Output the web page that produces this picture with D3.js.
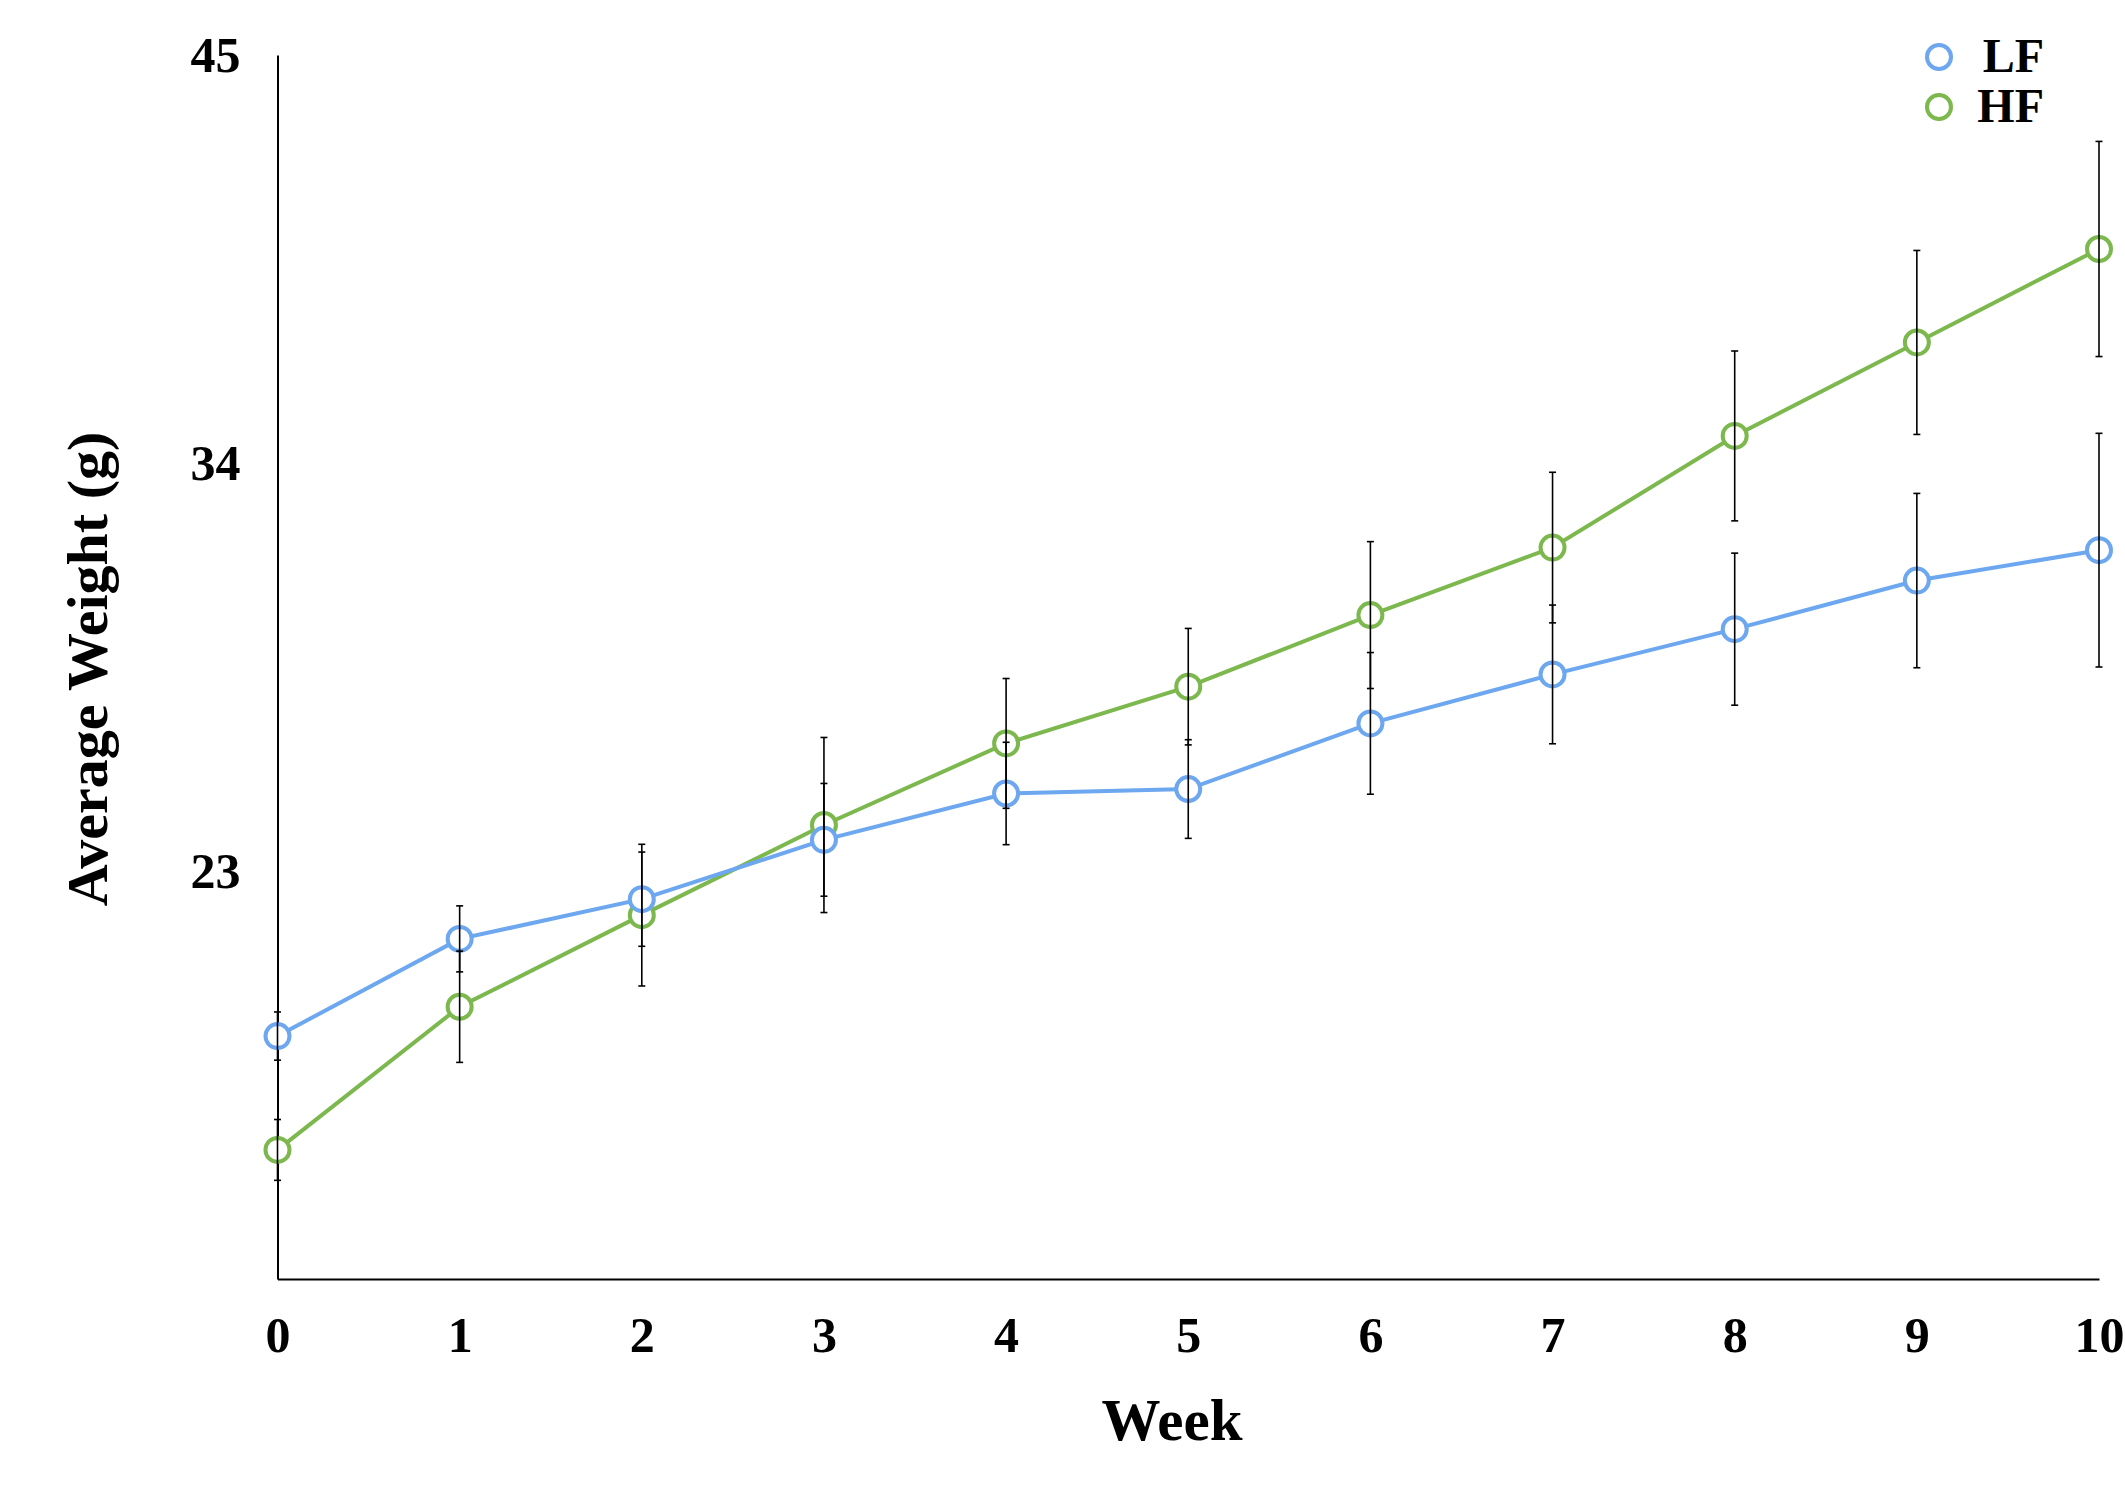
<!DOCTYPE html>
<html>
<head>
<meta charset="utf-8">
<script src="https://cdn.jsdelivr.net/npm/d3@7"></script>
<style>
  html, body { margin: 0; padding: 0; background: #fff; }
  svg { display: block; }
  text { font-family: "Liberation Serif", "Times New Roman", serif; font-weight: bold; fill: #000; }
</style>
</head>
<body>
<svg id="chart" width="2125" height="1496"></svg>
<script>
const weeks = [0, 1, 2, 3, 4, 5, 6, 7, 8, 9, 10];
const lfMean = [18.55, 21.17, 22.24, 23.84, 25.09, 25.21, 26.98, 28.30, 29.52, 30.83, 31.65];
const lfErr  = [0.65, 0.89, 1.27, 1.52, 1.38, 1.33, 1.91, 1.87, 2.05, 2.35, 3.15];
const hfMean = [15.48, 19.34, 21.81, 24.24, 26.44, 27.97, 29.90, 31.72, 34.73, 37.25, 39.77];
const hfErr  = [0.82, 1.50, 1.91, 2.36, 1.75, 1.57, 1.98, 2.03, 2.29, 2.48, 2.90];
const yTicks = [23, 34, 45];
const yDomain = [12, 45];
const seriesNames = ["LF", "HF"];
const seriesColors = ["#6ca7ef", "#7cb84d"];

(function () {
const svg = d3.select("#chart");
const mLeft = 277.5, mRight = 2099, mTop = 55, mBottom = 1279;

const x = d3.scaleLinear().domain([0, 10]).range([mLeft, mRight]);
const y = d3.scaleLinear().domain(yDomain).range([mBottom, mTop]);

// axes
const yAxis = svg.append("g").attr("transform", `translate(${mLeft},0)`)
  .call(d3.axisLeft(y).tickValues(yTicks).tickSizeInner(0).tickSizeOuter(0).tickPadding(37));
const xAxis = svg.append("g").attr("transform", `translate(0,${mBottom})`)
  .call(d3.axisBottom(x).tickValues(weeks).tickFormat(d3.format("d")).tickSizeInner(0).tickSizeOuter(0).tickPadding(37));
[yAxis, xAxis].forEach(g => {
  g.select(".domain").attr("stroke", "#000").attr("stroke-width", 2);
  g.selectAll("text").attr("font-size", 50).attr("font-family", "Liberation Serif").attr("font-weight", "bold").attr("fill", "#000");
});

// axis titles
svg.append("text").attr("x", 1172).attr("y", 1440).attr("text-anchor", "middle")
  .attr("font-size", 59).text("Week");
svg.append("text").attr("transform", "translate(107,669) rotate(-90)").attr("text-anchor", "middle")
  .attr("font-size", 58).text("Average Weight (g)");

const series = [
  { name: seriesNames[1], color: seriesColors[1], mean: hfMean, err: hfErr },
  { name: seriesNames[0], color: seriesColors[0], mean: lfMean, err: lfErr }
];

const line = d3.line().x(d => x(d[0])).y(d => y(d[1]));

series.forEach(s => {
  const pts = weeks.map((w, i) => [w, s.mean[i]]);
  svg.append("path").datum(pts).attr("d", line)
    .attr("fill", "none").attr("stroke", s.color).attr("stroke-width", 4);
});

series.forEach(s => {
  const pts = weeks.map((w, i) => [w, s.mean[i]]);
  svg.append("g").selectAll("circle").data(pts).join("circle")
    .attr("cx", d => x(d[0])).attr("cy", d => y(d[1])).attr("r", 12)
    .attr("fill", "#fff").attr("stroke", s.color).attr("stroke-width", 4);
});

// error bars on top
series.forEach(s => {
  const g = svg.append("g").attr("stroke", "#000").attr("stroke-width", 1.6);
  weeks.forEach((w, i) => {
    const cx = x(w), y1 = y(s.mean[i] + s.err[i]), y2 = y(s.mean[i] - s.err[i]);
    g.append("line").attr("x1", cx).attr("x2", cx).attr("y1", y1).attr("y2", y2);
    g.append("line").attr("x1", cx - 3.5).attr("x2", cx + 3.5).attr("y1", y1).attr("y2", y1);
    g.append("line").attr("x1", cx - 3.5).attr("x2", cx + 3.5).attr("y1", y2).attr("y2", y2);
  });
});

// legend
const legend = svg.append("g");
seriesNames.forEach((n, i) => {
  const cy = 57 + i * 50;
  legend.append("circle").attr("cx", 1939).attr("cy", cy).attr("r", 12)
    .attr("fill", "#fff").attr("stroke", seriesColors[i]).attr("stroke-width", 4);
  legend.append("text").attr("x", 2044).attr("y", cy + 15).attr("text-anchor", "end")
    .attr("font-size", 48).text(n);
});
})();
</script>
</body>
</html>
